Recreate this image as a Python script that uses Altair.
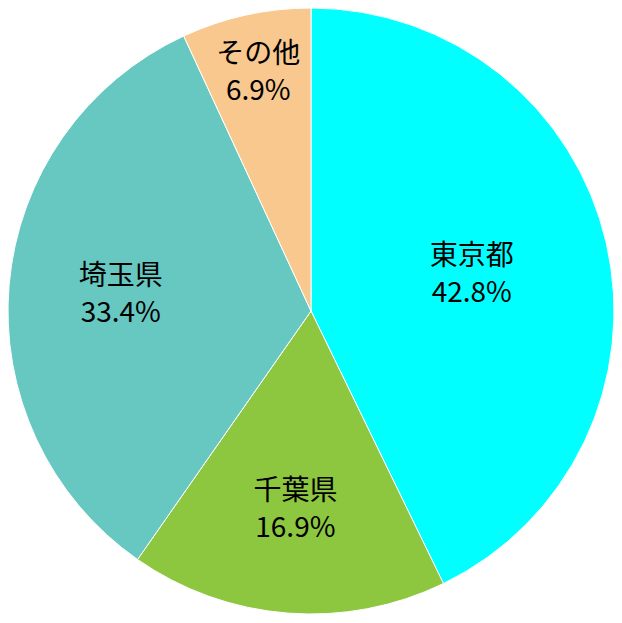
import altair as alt
import pandas as pd
import math

categories = ["東京都", "千葉県", "埼玉県", "その他"]
shares = [42.8, 16.9, 33.4, 6.9]
pct_labels = ["42.8%", "16.9%", "33.4%", "6.9%"]
colors = ["#00FFFF", "#8DC63F", "#66C8C0", "#F9C88F"]
label_radius = [165, 199, 191, 245]

df = pd.DataFrame({
    "cat": categories,
    "share": shares,
    "pct": pct_labels,
    "order": list(range(len(categories))),
    "lr": label_radius,
})

theta_scale = alt.Scale(domain=[0, 100], range=[0, 2 * math.pi])

base = alt.Chart(df).transform_window(
    end="sum(share)", sort=[alt.SortField("order")], frame=[None, 0]
).transform_calculate(
    start="datum.end - datum.share",
    mid="datum.end - datum.share / 2",
)

arcs = base.mark_arc(radius=303, stroke="white", strokeWidth=1).encode(
    theta=alt.Theta("start:Q", scale=theta_scale),
    theta2="end:Q",
    color=alt.Color("cat:N", scale=alt.Scale(domain=categories, range=colors), legend=None),
    x=alt.value(303),
    y=alt.value(303),
)

text_style = dict(
    font="Noto Sans CJK JP", fontSize=28, color="black",
    align="center", baseline="middle",
)

names = base.mark_text(dy=-17, **text_style).encode(
    theta=alt.Theta("mid:Q", scale=theta_scale),
    text="cat:N",
    radius=alt.Radius("lr:Q", scale=None),
    x=alt.value(303),
    y=alt.value(303),
)

pcts = base.mark_text(dy=20, **text_style).encode(
    theta=alt.Theta("mid:Q", scale=theta_scale),
    text="pct:N",
    radius=alt.Radius("lr:Q", scale=None),
    x=alt.value(303),
    y=alt.value(303),
)

chart = alt.layer(arcs, names, pcts).properties(
    width=606, height=607, padding=0, autosize=alt.AutoSizeParams(type="none")
).configure_view(stroke=None)

chart.save("out.html", embed_options={"renderer": "svg", "actions": False})
